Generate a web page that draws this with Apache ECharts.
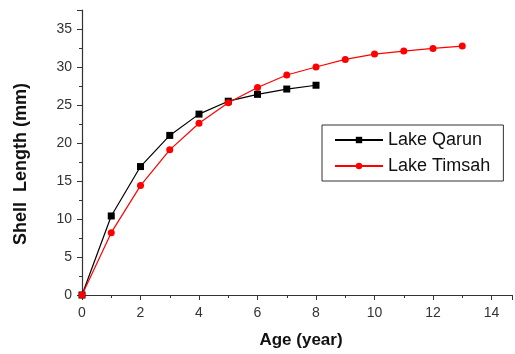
<!DOCTYPE html>
<html>
<head>
<meta charset="utf-8">
<script src="https://cdn.jsdelivr.net/npm/echarts@6/dist/echarts.min.js"></script>
<style>
  html, body { margin: 0; padding: 0; background: #fff; }
  #chart { width: 515px; height: 354px; }
</style>
</head>
<body>
<div id="chart"></div>
<script>
// shell length by age
var qarunAge = [0, 1, 2, 3, 4, 5, 6, 7, 8];
var qarunLength = [0, 10.4, 16.9, 21.0, 23.8, 25.5, 26.4, 27.1, 27.6];
var timsahAge = [0, 1, 2, 3, 4, 5, 6, 7, 8, 9, 10, 11, 12, 13];
var timsahLength = [0, 8.2, 14.4, 19.1, 22.6, 25.3, 27.3, 28.95, 30.0, 31.0, 31.7, 32.1, 32.45, 32.75];

function pairs(xs, ys) {
  return xs.map(function (x, i) { return [x, ys[i]]; });
}

var chart = echarts.init(document.getElementById('chart'));
var axisColor = '#333';
var font = 'Liberation Sans, Arial, sans-serif';

var option = {
  animation: false,
  grid: { left: 82, top: 10, right: 0, bottom: 59 },
  graphic: [{
    type: 'text',
    x: 21,
    y: 164,
    rotation: Math.PI / 2,
    style: {
      text: 'Shell  Length (mm)',
      fontFamily: font,
      fontSize: 18,
      fontWeight: 'bold',
      fill: '#111',
      align: 'center',
      verticalAlign: 'middle'
    }
  }],
  legend: {
    orient: 'vertical',
    left: 322,
    top: 125,
    padding: [6, 13, 6, 12],
    itemGap: 8,
    itemWidth: 48,
    itemHeight: 8,
    borderColor: '#333',
    borderWidth: 1,
    textStyle: { fontFamily: font, fontSize: 18, color: '#111' },
    data: ['Lake Qarun', 'Lake Timsah']
  },
  xAxis: {
    type: 'value',
    min: 0,
    max: 14.7,
    interval: 2,
    name: 'Age (year)',
    nameLocation: 'middle',
    nameGap: 37,
    nameTextStyle: { fontFamily: font, fontSize: 17, fontWeight: 'bold', color: '#111', padding: [0, 0, 0, 8] },
    axisLine: { show: true, onZero: false, lineStyle: { color: axisColor, width: 1.2 } },
    axisTick: { show: true, inside: false, length: 5, lineStyle: { color: axisColor } },
    minorTick: { show: true, splitNumber: 2, length: 3, lineStyle: { color: axisColor } },
    axisLabel: {
      fontFamily: font, fontSize: 14, color: '#333', margin: 11,
      formatter: function (v) { return v > 14 ? '' : v; }
    },
    splitLine: { show: false }
  },
  yAxis: {
    type: 'value',
    min: 0,
    max: 37.5,
    interval: 5,
    axisLine: { show: true, lineStyle: { color: axisColor, width: 1.2 } },
    axisTick: { show: true, inside: false, length: 5, lineStyle: { color: axisColor } },
    minorTick: { show: true, splitNumber: 2, length: 3, lineStyle: { color: axisColor } },
    axisLabel: {
      fontFamily: font, fontSize: 14, color: '#333', margin: 10,
      formatter: function (v) { return v > 35 ? '' : v; }
    },
    splitLine: { show: false }
  },
  series: [
    {
      name: 'Lake Qarun',
      type: 'line',
      data: pairs(qarunAge, qarunLength),
      symbol: 'rect',
      symbolSize: 7,
      lineStyle: { color: '#000', width: 1.2 },
      itemStyle: { color: '#000' },
      z: 3
    },
    {
      name: 'Lake Timsah',
      type: 'line',
      data: pairs(timsahAge, timsahLength),
      symbol: 'circle',
      symbolSize: 7,
      lineStyle: { color: '#ff0000', width: 1.2 },
      itemStyle: { color: '#ff0000' },
      z: 4
    }
  ]
};
chart.setOption(option);
</script>
</body>
</html>
